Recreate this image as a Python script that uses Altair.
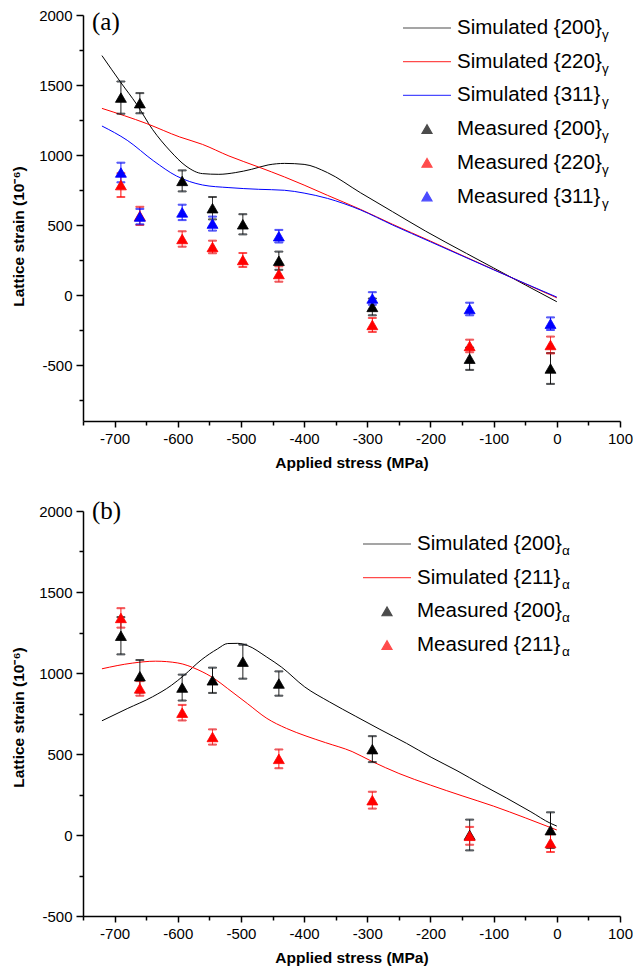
import altair as alt
import pandas as pd

# ---------------- Panel (a) : austenite ----------------
a_sim_names = ["Simulated {200}", "Simulated {220}", "Simulated {311}"]
a_meas_names = ["Measured {200}", "Measured {220}", "Measured {311}"]

a_sim200_x = [-720, -690, -665, -640, -612, -587, -561, -535, -509, -483, -457, -431, -400, -363, -311, -260, -208, -143, -100, -50, 0]
a_sim200_y = [1710, 1517, 1362, 1183, 1029, 921, 867, 862, 874, 898, 929, 940, 933, 874, 731, 595, 457, 297, 193, 72, -48]
a_sim220_x = [-720, -649, -597, -561, -519, -472, -431, -400, -363, -311, -260, -200, -150, -100, -50, 0]
a_sim220_y = [1333, 1224, 1129, 1076, 993, 914, 843, 785, 712, 612, 505, 385, 283, 182, 80, -20]
a_sim311_x = [-720, -680, -638, -602, -561, -519, -472, -431, -400, -363, -311, -260, -200, -150, -100, -50, 0]
a_sim311_y = [1207, 1105, 957, 850, 786, 767, 755, 748, 728, 690, 608, 500, 380, 280, 180, 82, -15]

a_m200_x = [-690, -660, -593, -545, -497, -440, -292, -138, -10]
a_m200_y = [1410, 1370, 815, 620, 505, 245, -85, -455, -525]
a_m200_e = [115, 72, 75, 80, 72, 65, 60, 80, 110]
a_m220_x = [-690, -660, -593, -545, -497, -440, -292, -138, -10]
a_m220_y = [785, 565, 400, 343, 250, 150, -214, -364, -357]
a_m220_e = [85, 65, 55, 45, 50, 55, 50, 45, 60]
a_m311_x = [-690, -660, -593, -545, -440, -292, -138, -10]
a_m311_y = [875, 560, 590, 510, 420, -25, -100, -205]
a_m311_e = [70, 55, 55, 50, 45, 45, 45, 45]

# ---------------- Panel (b) : ferrite ----------------
b_sim_names = ["Simulated {200}", "Simulated {211}"]
b_meas_names = ["Measured {200}", "Measured {211}"]

b_sim200_x = [-720, -680, -640, -610, -590, -563, -537, -521, -505, -490, -459, -436, -399, -360, -319, -280, -238, -199, -158, -119, -80, -41, -10, 0]
b_sim200_y = [705, 780, 853, 924, 986, 1080, 1149, 1182, 1183, 1170, 1098, 1037, 914, 822, 734, 652, 566, 480, 397, 311, 229, 143, 72, 55]
b_sim211_x = [-720, -672, -635, -600, -568, -542, -521, -490, -459, -428, -397, -366, -324, -293, -250, -200, -150, -100, -50, 0]
b_sim211_y = [1026, 1061, 1073, 1062, 1020, 965, 904, 812, 720, 658, 611, 570, 515, 455, 380, 308, 242, 178, 106, 31]

b_m200_x = [-690, -660, -593, -545, -497, -440, -292, -138, -10]
b_m200_y = [1230, 980, 910, 955, 1070, 935, 530, 0, 30]
b_m200_e = [115, 100, 80, 78, 105, 75, 80, 95, 110]
b_m211_x = [-690, -660, -593, -545, -440, -292, -138, -10]
b_m211_y = [1340, 905, 755, 605, 470, 215, -5, -50]
b_m211_e = [60, 45, 48, 47, 58, 52, 55, 55]

x_ticks = list(range(-750, 101, 50))
BLACK, RED, BLUE = "#000000", "#ff0000", "#0000ff"
LINE_SYMBOL = "M-4.8,0H4.8"
FONT = "Liberation Sans"


def sim_frame(names, xs, ys):
    rows = []
    for n, xv, yv in zip(names, xs, ys):
        rows += [{"series": n, "x": a, "y": b} for a, b in zip(xv, yv)]
    return pd.DataFrame(rows)


def meas_frame(names, sub, xs, ys, es):
    rows = []
    for n, xv, yv, ev in zip(names, xs, ys, es):
        rows += [{"series": n, "sub": n + " " + sub, "x": a, "y": b, "err": e}
                 for a, b, e in zip(xv, yv, ev)]
    return pd.DataFrame(rows)


def panel(sim_df, meas_df, sim_names, meas_names, colors, sub_char,
          ydomain, label_text, label_y, leg_x, leg_y, ytitle_y, height):
    domain = sim_names + meas_names
    sub_domain = [d + " " + sub_char for d in domain]
    crange = colors + colors
    srange = [LINE_SYMBOL] * len(sim_names) + ["triangle-up"] * len(meas_names)

    legend = alt.Legend(
        orient="none", legendX=leg_x, legendY=leg_y, direction="vertical",
        title=None, padding=0, labelFont=FONT, labelFontSize=20.5,
        labelColor="black", labelLimit=400, symbolSize=100,
        symbolStrokeWidth=1.2, symbolOffset=13.75, labelOffset=19.75,
        rowPadding=12.7,
    )
    sub_legend = alt.Legend(
        orient="none", legendX=leg_x + 185, legendY=leg_y + 3.25,
        direction="vertical", title=None, padding=0, labelFont=FONT,
        labelFontSize=13.5, labelColor="black", labelBaseline="top",
        labelExpr="'" + sub_char + "'", symbolType="square", symbolSize=196,
        symbolStrokeWidth=0, symbolOpacity=0, symbolOffset=0, labelOffset=0,
        rowPadding=12.7,
    )

    xscale = alt.Scale(domain=[-750, 100], nice=False, zero=False)
    yscale = alt.Scale(domain=ydomain, nice=False, zero=False)
    y_ticks = [v for v in range(-750, 2001, 250) if v >= ydomain[0]]

    xaxis = alt.Axis(values=x_ticks, tickCount=100, title="Applied stress (MPa)",
                     labelOverlap=False, labelFlush=False,
                     labelExpr="datum.value % 100 === 0 ? toString(datum.value) : ''",
                     tickSize={"condition": {"test": "datum.value % 100 !== 0", "value": 4}, "value": 6},
                     labelPadding=4, titlePadding=9)
    yaxis = alt.Axis(values=y_ticks, tickCount=100, title="Lattice strain (10⁻⁶)",
                     labelOverlap=False, labelFlush=False,
                     labelExpr="datum.value % 500 === 0 ? toString(datum.value) : ''",
                     tickSize={"condition": {"test": "datum.value % 500 !== 0", "value": 4}, "value": 7},
                     labelPadding=4, titlePadding=12, titleY=ytitle_y)

    stroke_enc = alt.Stroke("series:N", scale=alt.Scale(domain=domain, range=crange), legend=legend)
    fill_enc = alt.Fill("series:N", scale=alt.Scale(domain=domain, range=crange), legend=legend)
    shape_enc = alt.Shape("series:N", scale=alt.Scale(domain=domain, range=srange), legend=legend)

    lines = alt.Chart(sim_df).mark_line(strokeWidth=1, interpolate="monotone").encode(
        x=alt.X("x:Q", scale=xscale, axis=xaxis),
        y=alt.Y("y:Q", scale=yscale, axis=yaxis),
        stroke=stroke_enc,
    )
    base = alt.Chart(meas_df).transform_calculate(
        lo="datum.y - datum.err", hi="datum.y + datum.err")
    rules = base.mark_rule(strokeWidth=1).encode(
        x=alt.X("x:Q", scale=xscale),
        y=alt.Y("lo:Q", scale=yscale),
        y2="hi:Q",
        stroke=stroke_enc,
        strokeDash=alt.StrokeDash("sub:N", scale=alt.Scale(domain=sub_domain, range=[[1, 0]] * len(sub_domain)),
                                  legend=sub_legend),
    )
    caps = base.transform_fold(["lo", "hi"], as_=["end", "yv"]).mark_tick(
        orient="horizontal", size=8, thickness=1).encode(
        x=alt.X("x:Q", scale=xscale),
        y=alt.Y("yv:Q", scale=yscale),
        stroke=stroke_enc,
    )
    points = alt.Chart(meas_df).mark_point(filled=True, size=120, strokeWidth=0.8, opacity=1).encode(
        x=alt.X("x:Q", scale=xscale),
        y=alt.Y("y:Q", scale=yscale),
        fill=fill_enc,
        stroke=stroke_enc,
        shape=shape_enc,
    )
    label = alt.Chart(pd.DataFrame({"t": [label_text]})).mark_text(
        font="Liberation Serif", fontSize=25, align="left", baseline="middle", color="black"
    ).encode(text="t:N", x=alt.value(9), y=alt.value(label_y))
    return alt.layer(lines, rules, caps, points, label).properties(width=537, height=height)


sim_a = sim_frame(a_sim_names, [a_sim200_x, a_sim220_x, a_sim311_x], [a_sim200_y, a_sim220_y, a_sim311_y])
meas_a = meas_frame(a_meas_names, "γ", [a_m200_x, a_m220_x, a_m311_x], [a_m200_y, a_m220_y, a_m311_y],
                    [a_m200_e, a_m220_e, a_m311_e])
sim_b = sim_frame(b_sim_names, [b_sim200_x, b_sim211_x], [b_sim200_y, b_sim211_y])
meas_b = meas_frame(b_meas_names, "α", [b_m200_x, b_m211_x], [b_m200_y, b_m211_y], [b_m200_e, b_m211_e])

pa = panel(sim_a, meas_a, a_sim_names, a_meas_names, [BLACK, RED, BLUE], "γ",
           [-900, 2000], "(a)", 7, 320, 2.75, 221, 406)
pb = panel(sim_b, meas_b, b_sim_names, b_meas_names, [BLACK, RED], "α",
           [-500, 2000], "(b)", 0, 280, 22.75, 206, 405)

chart = alt.vconcat(pa, pb, spacing=28).resolve_scale(
    stroke="independent", fill="independent", shape="independent", strokeDash="independent"
).properties(
    padding={"left": 3, "top": 0, "right": 0, "bottom": 0}
).configure_view(stroke=None).configure_axis(
    grid=False, domainColor="black", domainWidth=1.5, tickColor="black", tickWidth=1.5,
    labelFont=FONT, labelFontSize=15, labelColor="black",
    titleFont=FONT, titleFontSize=15.5, titleFontWeight="bold", titleColor="black",
)

chart.save("out.html", embed_options={"renderer": "svg", "actions": False})
